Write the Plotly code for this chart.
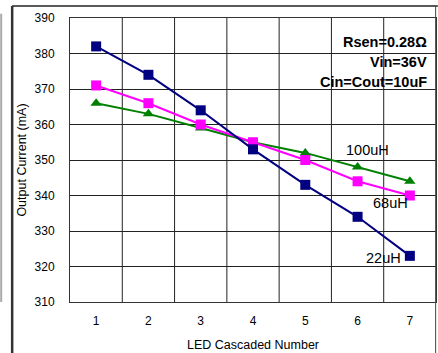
import plotly.graph_objects as go

led_number = [1, 2, 3, 4, 5, 6, 7]
i_22uH = [382, 374, 364, 353, 343, 334, 323]
i_68uH = [371, 366, 360, 355, 350, 344, 340]
i_100uH = [366, 363, 359, 355, 352, 348, 344]
y_ticks = [310, 320, 330, 340, 350, 360, 370, 380, 390]

FONT = "Liberation Sans, Arial, sans-serif"

fig = go.Figure()
fig.add_trace(go.Scatter(x=led_number, y=i_100uH, mode="lines+markers", name="100uH",
                         line=dict(color="#008000", width=2),
                         marker=dict(symbol="triangle-up", size=10, color="#008000")))
fig.add_trace(go.Scatter(x=led_number, y=i_68uH, mode="lines+markers", name="68uH",
                         line=dict(color="#FF00FF", width=2),
                         marker=dict(symbol="square", size=10, color="#FF00FF")))
fig.add_trace(go.Scatter(x=led_number, y=i_22uH, mode="lines+markers", name="22uH",
                         line=dict(color="#000080", width=2),
                         marker=dict(symbol="square", size=10, color="#000080")))

fig.update_layout(
    width=438, height=353,
    margin=dict(l=70, r=2, t=18, b=51),
    paper_bgcolor="white", plot_bgcolor="white",
    showlegend=False,
    font=dict(family=FONT, size=12, color="#000000"),
    xaxis=dict(range=[0.5, 7.5], tickvals=led_number, showgrid=False,
               zeroline=False, ticks="", showline=True, linecolor="#333333", linewidth=1,
               mirror=True, tickfont=dict(size=12), ticklabelstandoff=8,
               title=dict(text="LED Cascaded Number", font=dict(size=12.5), standoff=12)),
    yaxis=dict(range=[310, 390], tickvals=y_ticks, showgrid=True, gridcolor="#222222",
               gridwidth=1, zeroline=False, ticks="", showline=True, linecolor="#333333",
               linewidth=1, mirror=True, tickfont=dict(size=12), ticklabelstandoff=12,
               title=dict(text="Output Current (mA)", font=dict(size=12.5), standoff=5)),
)

# vertical gridlines between categories
for xv in [1.5, 2.5, 3.5, 4.5, 5.5, 6.5]:
    fig.add_shape(type="line", xref="x", yref="paper", x0=xv, x1=xv, y0=0, y1=1,
                  line=dict(color="#222222", width=1), layer="below")

# outer frame
fig.add_shape(type="line", xref="paper", yref="paper", x0=-0.158, x1=1.005, y0=1.042, y1=1.042,
              line=dict(color="#222222", width=1.5))
fig.add_shape(type="line", xref="paper", yref="paper", x0=-0.158, x1=-0.158, y0=1.042, y1=-0.2,
              line=dict(color="#333333", width=2.5))
fig.add_shape(type="line", xref="paper", yref="paper", x0=0.999, x1=0.999, y0=1.042, y1=-0.2,
              line=dict(color="#444444", width=1))
fig.add_shape(type="line", xref="paper", yref="paper", x0=-0.188, x1=-0.188, y0=1.015, y1=0.0,
              line=dict(color="#aaaaaa", width=2))

# series labels
fig.add_annotation(x=6.19, y=352.8, text="100uH", showarrow=False, font=dict(size=14.5))
fig.add_annotation(x=6.63, y=337.9, text="68uH", showarrow=False, font=dict(size=14.5))
fig.add_annotation(x=6.50, y=322.4, text="22uH", showarrow=False, font=dict(size=14.5))

# conditions box
fig.add_annotation(xref="paper", yref="y", x=0.982, y=383.3, text="<b>Rsen=0.28Ω</b>",
                   showarrow=False, xanchor="right", font=dict(size=14.5))
fig.add_annotation(xref="paper", yref="y", x=0.982, y=377.7, text="<b>Vin=36V</b>",
                   showarrow=False, xanchor="right", font=dict(size=14.5))
fig.add_annotation(xref="paper", yref="y", x=0.982, y=372.1, text="<b>Cin=Cout=10uF</b>",
                   showarrow=False, xanchor="right", font=dict(size=14.5))

fig.write_html("out.html", config={"displayModeBar": False},
               post_script="document.body.style.margin='0';document.body.style.overflow='hidden';")
